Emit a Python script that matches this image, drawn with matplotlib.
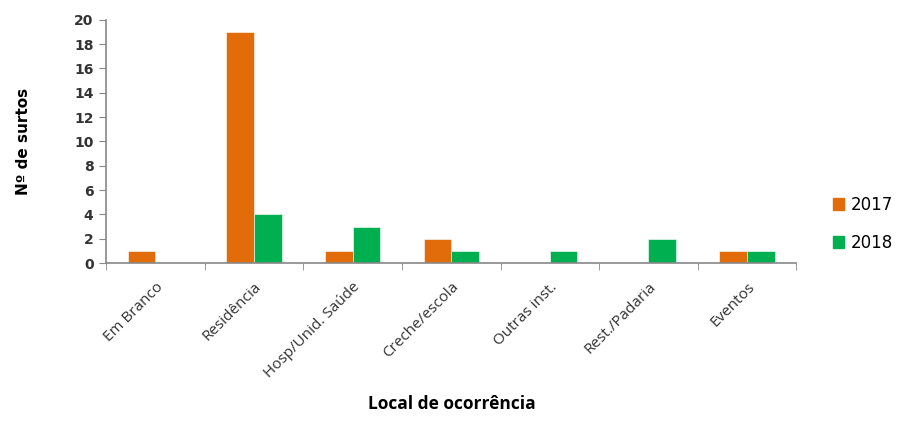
import numpy as np
import matplotlib.pyplot as plt
from matplotlib.patches import Patch

locais = ['Em Branco', 'Residência', 'Hosp/Unid. Saúde', 'Creche/escola',
          'Outras inst.', 'Rest./Padaria', 'Eventos']
surtos_2017 = [1, 19, 1, 2, 0, 0, 1]
surtos_2018 = [0, 4, 3, 1, 1, 2, 1]

cor_2017 = '#E36C0A'
cor_2018 = '#00B050'

fig = plt.figure(figsize=(9.06, 4.21), dpi=100)
ax = fig.add_axes([0.117, 0.375, 0.762, 0.578])

x = np.arange(len(locais))
w = 0.28
ax.bar(x - w / 2, surtos_2017, width=w, color=cor_2017, edgecolor='white', linewidth=0.4)
ax.bar(x + w / 2, surtos_2018, width=w, color=cor_2018, edgecolor='white', linewidth=0.4)

ax.set_xlim(-0.5, len(locais) - 0.5)
ax.set_ylim(0, 20)
ax.set_yticks(range(0, 21, 2))
ax.set_xticks(x)
ax.set_xticklabels(locais, rotation=45, ha='right', rotation_mode='anchor',
                   fontsize=11, family='Open Sans', color='#333333')
ax.set_xticks(np.arange(-0.5, len(locais)), minor=True)
ax.tick_params(axis='x', which='major', length=0, pad=12)
ax.tick_params(axis='x', which='minor', length=5, color='#888888')
ax.tick_params(axis='y', length=5, color='#888888', labelsize=10, pad=4)
for lbl in ax.get_yticklabels():
    lbl.set_fontweight('bold')
    lbl.set_color('#333333')

for s in ['top', 'right']:
    ax.spines[s].set_visible(False)
for s in ['left', 'bottom']:
    ax.spines[s].set_color('#888888')
    ax.spines[s].set_linewidth(1.2)

ax.set_ylabel('Nº de surtos', fontweight='bold', fontsize=11, labelpad=31)
fig.text(0.499, 0.02, 'Local de ocorrência', ha='center', va='bottom',
         fontweight='bold', fontsize=12.5, family='Open Sans')

handles = [Patch(color=cor_2017, label='2017'), Patch(color=cor_2018, label='2018')]
fig.legend(handles=handles, loc='center left', bbox_to_anchor=(0.908, 0.468),
           frameon=False, fontsize=12, handlelength=0.7, handleheight=0.7,
           handletextpad=0.4, labelspacing=1.2, borderaxespad=0.2)

fig.savefig('out.png', dpi=100)
